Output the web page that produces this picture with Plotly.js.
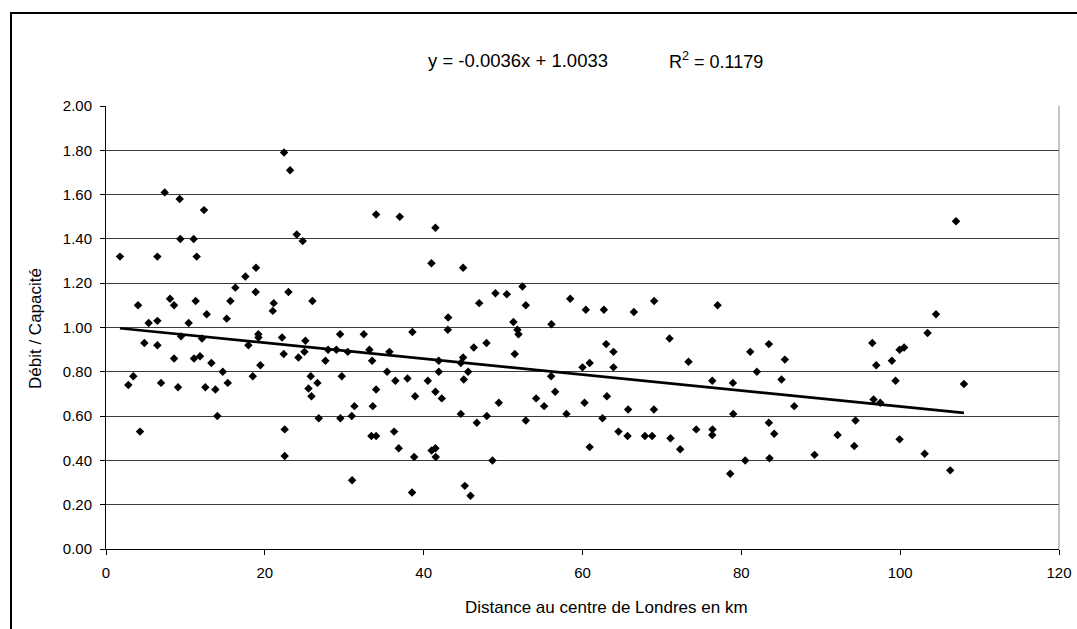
<!DOCTYPE html>
<html><head><meta charset="utf-8">
<script src="https://cdn.plot.ly/plotly-3.0.1.min.js"></script>
<style>html,body{margin:0;padding:0;background:#fff}#chart{width:1077px;height:629px}</style>
</head><body><div id="chart"></div>
<script>
// Distance au centre de Londres (km)
const distanceKm = [
  1.76,2.81,3.44,4.28,4.03,5.37,4.83,6.47,6.47,6.47,6.93,7.39,8.06,8.57,8.57,9.28,9.36,9.45,9.07,10.41,
  11.04,11.42,11.08,11.84,11.29,12.09,12.34,12.68,12.51,13.27,13.77,14.02,14.70,15.20,15.33,15.66,16.29,17.55,17.93,18.48,
  18.89,18.85,19.18,19.20,19.44,
  22.42,23.18,21.12,21.00,22.97,22.17,22.38,22.50,22.50,24.02,24.77,25.99,24.23,24.98,25.11,25.78,25.49,25.87,26.62,26.79,
  27.63,27.96,29.01,29.48,29.69,29.51,30.44,30.99,31.28,30.95,32.46,33.17,33.51,34.01,33.59,33.42,34.01,34.01,36.99,35.69,
  35.39,36.44,36.28,36.86,37.96,38.58,38.92,38.80,38.54,40.52,
  41.48,40.98,44.97,43.08,43.04,41.90,41.90,41.48,42.28,41.00,41.48,41.52,44.97,44.68,45.60,45.05,46.31,47.91,46.99,44.68,
  46.69,47.95,49.46,45.18,45.90,48.66,49.04,50.47,52.44,52.86,51.30,51.81,51.94,51.47,52.86,54.16,55.17,56.09,56.05,56.56,
  57.98,58.45,60.42,60.00,60.90,60.25,60.90,
  62.69,62.98,63.90,63.90,63.07,62.52,64.53,65.67,65.75,66.47,69.02,68.99,67.86,68.77,70.96,71.08,72.30,73.35,74.32,76.34,
  76.37,76.34,77.01,78.94,78.98,78.60,80.49,
  81.12,81.96,83.47,85.48,85.06,86.66,83.47,84.14,83.55,89.22,92.12,94.38,94.22,96.49,96.99,96.65,97.49,98.96,99.42,99.93,
  100.50,99.93,
  107.03,104.51,103.45,108.03,103.08,106.30
];
// Débit / Capacité
const debitCapacite = [
  1.32,0.74,0.78,0.53,1.10,1.02,0.93,1.32,1.03,0.92,0.75,1.61,1.13,1.10,0.86,1.58,1.40,0.96,0.73,1.02,
  1.40,1.32,0.86,0.87,1.12,0.95,1.53,1.06,0.73,0.84,0.72,0.60,0.80,1.04,0.75,1.12,1.18,1.23,0.92,0.78,
  1.27,1.16,0.97,0.955,0.83,
  1.79,1.71,1.11,1.075,1.16,0.955,0.88,0.54,0.42,1.42,1.39,1.12,0.865,0.89,0.94,0.78,0.725,0.69,0.75,0.59,
  0.85,0.90,0.90,0.97,0.78,0.59,0.89,0.31,0.645,0.60,0.97,0.90,0.85,0.72,0.645,0.51,0.51,1.51,1.50,0.89,
  0.80,0.76,0.53,0.455,0.77,0.98,0.69,0.415,0.255,0.76,
  1.45,1.29,1.27,1.045,0.99,0.85,0.80,0.71,0.68,0.445,0.455,0.415,0.865,0.84,0.80,0.765,0.91,0.93,1.11,0.61,
  0.57,0.60,0.66,0.285,0.24,0.40,1.155,1.15,1.185,1.10,1.025,0.99,0.97,0.88,0.58,0.68,0.645,1.015,0.78,0.71,
  0.61,1.13,1.08,0.82,0.84,0.66,0.46,
  1.08,0.925,0.89,0.82,0.69,0.59,0.53,0.51,0.63,1.07,1.12,0.63,0.51,0.51,0.95,0.50,0.45,0.845,0.54,0.76,
  0.54,0.515,1.10,0.75,0.61,0.34,0.40,
  0.89,0.80,0.925,0.855,0.765,0.645,0.57,0.52,0.41,0.425,0.515,0.58,0.465,0.93,0.83,0.675,0.66,0.85,0.76,0.90,
  0.91,0.495,
  1.48,1.06,0.975,0.745,0.43,0.355
];
// Linear trendline shown on the chart
const slope = -0.0036;
const intercept = 1.0033;
const rSquared = 0.1179;

const xTickVals = [0, 20, 40, 60, 80, 100, 120];
const yTickVals = [0, 0.2, 0.4, 0.6, 0.8, 1.0, 1.2, 1.4, 1.6, 1.8, 2.0];
const xTitle = 'Distance au centre de Londres en km';
const yTitle = 'Débit / Capacité';

const font = 'Liberation Sans, Arial, sans-serif';
const W = 1077, H = 629;
const plotL = 106, plotR = 1059, plotT = 106, plotB = 549;
const pw = plotR - plotL, ph = plotB - plotT;
const px = p => (p - plotL) / pw;
const py = p => (plotB - p) / ph;

const xMin = Math.min(...distanceKm), xMax = Math.max(...distanceKm);
const trendX = [xMin, xMax];
const trendY = trendX.map(x => slope * x + intercept);

const traces = [
  {x: distanceKm, y: debitCapacite, type: 'scatter', mode: 'markers',
   marker: {symbol: 'diamond', size: 6.5, color: '#000', line: {width: 0}}, hoverinfo: 'x+y'},
  {x: trendX, y: trendY, type: 'scatter', mode: 'lines',
   line: {color: '#000', width: 2.6}, hoverinfo: 'skip'}
];

const layout = {
  width: W, height: H,
  margin: {l: plotL, r: W - plotR, t: plotT, b: H - plotB, pad: 0},
  paper_bgcolor: '#fff', plot_bgcolor: '#fff',
  showlegend: false,
  font: {family: font, size: 15, color: '#000'},
  xaxis: {range: [0, 120], tickvals: xTickVals, ticktext: xTickVals.map(String),
    showgrid: false, zeroline: false, showline: true, linecolor: '#000', linewidth: 1,
    ticks: 'outside', ticklen: 5, tickcolor: '#000', tickwidth: 1,
    tickfont: {family: font, size: 15, color: '#000'}, ticklabelstandoff: 5, fixedrange: true},
  yaxis: {range: [0, 2], tickvals: yTickVals, ticktext: yTickVals.map(v => v.toFixed(2)),
    showgrid: true, gridcolor: '#3a3a3a', gridwidth: 1, zeroline: false,
    showline: true, linecolor: '#000', linewidth: 1,
    ticks: 'outside', ticklen: 5, tickcolor: '#000', tickwidth: 1,
    tickfont: {family: font, size: 15, color: '#000'}, ticklabelstandoff: 5, fixedrange: true},
  shapes: [
    {type: 'line', xref: 'paper', yref: 'paper', x0: 1, x1: 1, y0: 0, y1: 1,
     line: {color: '#8a8a8a', width: 1}},
    {type: 'rect', xref: 'paper', yref: 'paper', x0: px(11), x1: px(1082), y0: py(640), y1: py(13),
     line: {color: '#000', width: 2}, fillcolor: 'rgba(0,0,0,0)'}
  ],
  annotations: [
    {xref: 'paper', yref: 'paper', x: px(518), y: py(61), xanchor: 'center', yanchor: 'middle', showarrow: false,
     text: 'y = ' + slope.toFixed(4) + 'x + ' + intercept.toFixed(4), font: {family: font, size: 18.5, color: '#000'}},
    {xref: 'paper', yref: 'paper', x: px(716), y: py(61), xanchor: 'center', yanchor: 'middle', showarrow: false,
     text: 'R<sup>2</sup> = ' + rSquared.toFixed(4), font: {family: font, size: 18, color: '#000'}},
    {xref: 'paper', yref: 'paper', x: px(606), y: py(607), xanchor: 'center', yanchor: 'middle', showarrow: false,
     text: xTitle, font: {family: font, size: 17, color: '#000'}},
    {xref: 'paper', yref: 'paper', x: px(35), y: py(329), xanchor: 'center', yanchor: 'middle', showarrow: false,
     textangle: -90, text: yTitle, font: {family: font, size: 17, color: '#000'}}
  ]
};

Plotly.newPlot('chart', traces, layout, {displayModeBar: false, staticPlot: true});
</script>
</body></html>
